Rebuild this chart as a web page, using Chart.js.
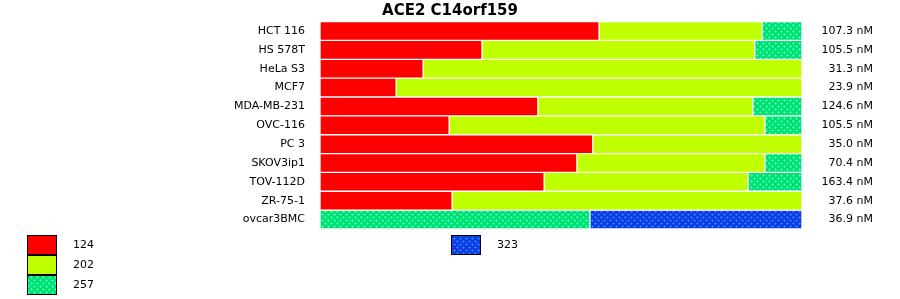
<!DOCTYPE html>
<html>
<head>
<meta charset="utf-8">
<script src="https://cdn.jsdelivr.net/npm/chart.js@4/dist/chart.umd.min.js"></script>
<style>
  html, body { margin: 0; padding: 0; background: #fff; }
  #wrap { position: relative; width: 900px; height: 299px; }
</style>
</head>
<body>
<div id="wrap"><canvas id="c"></canvas></div>
<script>
// ---- data ----
const title = 'ACE2 C14orf159';
const categories = ['HCT 116','HS 578T','HeLa S3','MCF7','MDA-MB-231','OVC-116','PC 3','SKOV3ip1','TOV-112D','ZR-75-1','ovcar3BMC'];
const concLabels = ['107.3 nM','105.5 nM','31.3 nM','23.9 nM','124.6 nM','105.5 nM','35.0 nM','70.4 nM','163.4 nM','37.6 nM','36.9 nM'];
const seriesNames = ['124','202','257','323'];
const s124 = [57.9, 33.6, 21.4, 15.8, 45.2, 26.8, 56.6, 53.3, 46.5, 27.4, null];
const s202 = [33.8, 56.6, 78.6, 84.2, 44.6, 65.5, 43.4, 39.0, 42.3, 72.6, null];
const s257 = [8.3, 9.8, null, null, 10.2, 7.7, null, 7.7, 11.2, null, 56.0];
const s323 = [null, null, null, null, null, null, null, null, null, null, 44.0];

// ---- styles ----
function plusPattern(base, dot) {
  const c = document.createElement('canvas');
  c.width = 6; c.height = 6;
  const g = c.getContext('2d');
  g.fillStyle = base; g.fillRect(0, 0, 6, 6);
  g.fillStyle = dot;
  const plus = (cx, cy) => {
    g.fillRect(cx - 1, cy, 3, 1);
    g.fillRect(cx, cy - 1, 1, 3);
  };
  plus(1, 1); plus(4, 4);
  return g.createPattern(c, 'repeat');
}
const fills = [
  '#ff0000',
  '#c0ff00',
  plusPattern('#00dd77', '#33ff99'),
  plusPattern('#0a3ddd', '#2f6bff')
];
const seriesData = [s124, s202, s257, s323];
const FONT = 'DejaVu Sans';

const gridLegend = {
  id: 'gridLegend',
  afterDraw(chart) {
    const ctx = chart.ctx;
    ctx.save();
    const colX = [27, 451];
    chart.data.datasets.forEach((ds, i) => {
      const col = Math.floor(i / 3), row = i % 3;
      const x = colX[col], y = 235 + row * 20;
      ctx.fillStyle = ds.backgroundColor;
      ctx.fillRect(x, y, 30, 20);
      ctx.strokeStyle = '#000';
      ctx.lineWidth = 1;
      ctx.strokeRect(x + 0.5, y + 0.5, 29, 19);
      ctx.fillStyle = '#000';
      ctx.font = '11px "' + FONT + '"';
      ctx.textBaseline = 'middle';
      ctx.textAlign = 'left';
      ctx.fillText(ds.label, x + 46, y + 10);
    });
    ctx.restore();
  }
};

new Chart(document.getElementById('c'), {
  type: 'bar',
  data: {
    labels: categories,
    datasets: seriesNames.map((n, i) => ({
      label: n,
      data: seriesData[i],
      backgroundColor: fills[i],
      borderColor: '#ffffff',
      borderWidth: 1,
      borderSkipped: false,
      barPercentage: 1,
      categoryPercentage: 1,
      yAxisID: 'y'
    }))
  },
  options: {
    indexAxis: 'y',
    responsive: true,
    maintainAspectRatio: false,
    animation: false,
    layout: { padding: { left: 27, right: 27, top: 0, bottom: 70 } },
    plugins: {
      legend: { display: false },
      tooltip: { enabled: false },
      title: {
        display: true,
        text: title,
        color: '#000',
        font: { family: FONT, size: 15, weight: 'bold', lineHeight: 1.2 },
        padding: { top: 1, bottom: 1 }
      }
    },
    scales: {
      x: {
        stacked: true,
        display: false,
        min: 0,
        max: 100
      },
      y: {
        stacked: true,
        position: 'left',
        grid: { display: false, drawTicks: false },
        border: { display: false },
        ticks: { color: '#000', padding: 15, font: { family: FONT, size: 11 } },
        afterFit(scale) { scale.width = 293; }
      },
      y2: {
        type: 'category',
        position: 'right',
        labels: concLabels,
        offset: true,
        grid: { display: false, drawTicks: false },
        border: { display: false },
        ticks: { color: '#000', crossAlign: 'far', padding: 0, font: { family: FONT, size: 11 } },
        afterFit(scale) { scale.width = 71; }
      }
    }
  },
  plugins: [gridLegend]
});
</script>
</body>
</html>
